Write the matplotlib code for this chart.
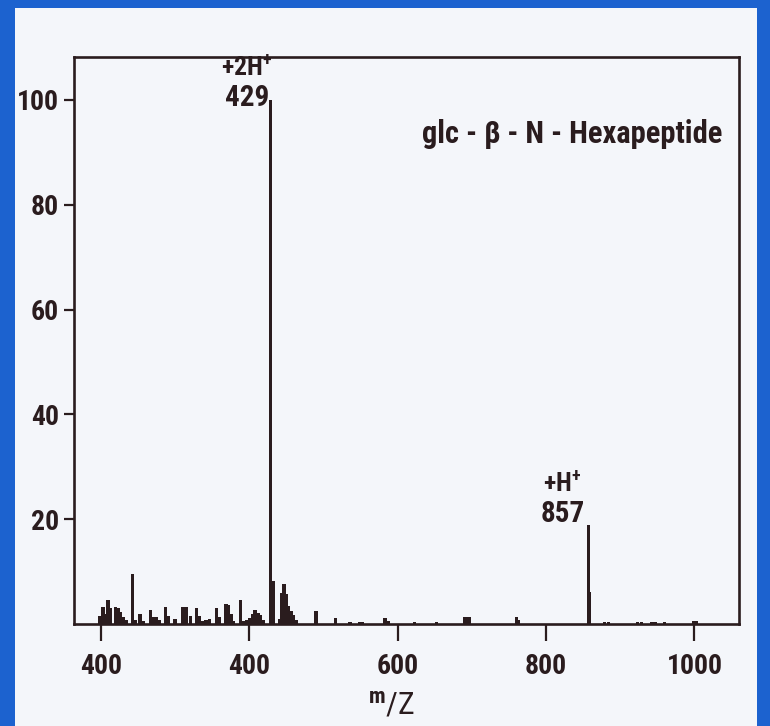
import matplotlib
matplotlib.use("Agg")
import matplotlib.pyplot as plt
from matplotlib import font_manager
from matplotlib.patches import Rectangle

# ---- spectrum data -------------------------------------------------------
mz = [199, 203, 206, 210, 213, 220, 224, 227, 231, 235,
      243, 247, 253, 257, 267, 271, 275, 279, 287, 291,
      300, 310, 315, 321, 329, 333, 337, 342, 347, 356,
      360, 369, 372, 376, 379, 388, 392, 397, 401, 405,
      408, 412, 415, 419, 429, 432, 441, 444, 447, 450,
      453, 457, 460, 464, 490, 516, 536, 549, 553, 583,
      587, 623, 652, 691, 696, 760, 763, 857, 859, 879,
      884, 923, 929, 942, 947, 960, 999, 1002]
intensity = [1.6, 3.2, 2.0, 4.6, 3.0, 3.3, 3.0, 2.2, 1.3, 0.8,
             9.5, 0.8, 1.9, 0.6, 2.6, 1.3, 1.4, 0.8, 3.2, 1.6,
             1.0, 3.3, 3.2, 1.6, 3.1, 1.5, 0.6, 0.8, 1.0, 3.1,
             1.3, 3.8, 3.6, 1.9, 0.6, 4.5, 0.6, 0.7, 1.2, 1.9,
             2.6, 2.1, 1.8, 0.8, 100.0, 8.2, 1.0, 6.0, 7.6, 5.8,
             3.5, 2.4, 1.8, 0.8, 2.5, 1.2, 0.4, 0.4, 0.4, 1.2,
             0.6, 0.4, 0.3, 1.4, 1.4, 1.4, 0.8, 18.8, 6.2, 0.4,
             0.4, 0.4, 0.4, 0.4, 0.4, 0.4, 0.5, 0.5]

# labelled ions
ion_mz = [429, 857]
ion_intensity = [100.0, 18.8]
ion_names = ["+2H$^{+}$", "+H$^{+}$"]

xtick_values = [200, 400, 600, 800, 1000]
xtick_labels = ["400", "400", "600", "800", "1000"]
ytick_values = [20, 40, 60, 80, 100]
title_text = "glc - \u03b2 - N - Hexapeptide"

# ---- style ---------------------------------------------------------------
BLUE = "#1c62cf"
PANEL = "#f4f6fa"
INK = "#2a1c1e"

# prefer a narrow bold grotesque for all lettering
available = {f.name for f in font_manager.fontManager.ttflist}
preferred = ["Liberation Sans Narrow", "Roboto Condensed", "Archivo Narrow",
             "PT Sans Narrow", "Pragati Narrow", "Arimo", "Liberation Sans"]
FONT = next((f for f in preferred if f in available), "DejaVu Sans")

plt.rcParams["font.family"] = [FONT, "DejaVu Sans"]
plt.rcParams["font.weight"] = "bold"
plt.rcParams["mathtext.fontset"] = "custom"
plt.rcParams["mathtext.rm"] = f"{FONT}:bold"
plt.rcParams["mathtext.it"] = f"{FONT}:bold"
plt.rcParams["mathtext.bf"] = f"{FONT}:bold"
FS = 20

# per-label offsets (points) of the m/z value from the peak tip
label_dx = [-17, -18.5]
label_dy = [-4.5, 2.5]
NAME_RISE = 21.5

fig = plt.figure(figsize=(7.7, 7.26), dpi=100)
fig.patch.set_facecolor(BLUE)
fig.add_artist(Rectangle((15 / 770, 0), (757 - 15) / 770, 1 - 8 / 726,
                         transform=fig.transFigure, facecolor=PANEL,
                         edgecolor="none", zorder=0))

ax = fig.add_axes([74 / 770, 1 - 624 / 726, 665 / 770, 567 / 726])
ax.set_facecolor(PANEL)

ax.bar(mz, intensity, width=4.5, color=INK, linewidth=0, zorder=3)

ax.set_xlim(164, 1060)
ax.set_ylim(0, 108.2)
ax.set_xticks(xtick_values)
ax.set_xticklabels(xtick_labels)
ax.set_yticks(ytick_values)

ax.tick_params(axis="x", direction="out", length=12, width=1.6, pad=9,
               labelsize=FS, colors=INK)
ax.tick_params(axis="y", direction="out", length=7, width=1.6, pad=4,
               labelsize=FS, colors=INK)
for sp in ax.spines.values():
    sp.set_linewidth(1.9)
    sp.set_color(INK)

# ion annotations: m/z value beside the peak tip, ion name stacked above it
for x, y, name, dx, dy in zip(ion_mz, ion_intensity, ion_names,
                              label_dx, label_dy):
    ax.annotate(f"{x}", xy=(x, y), xytext=(dx, dy),
                textcoords="offset points", ha="center", va="baseline",
                fontsize=21, color=INK, zorder=4)
    ax.annotate(name, xy=(x, y), xytext=(dx, dy + NAME_RISE),
                textcoords="offset points", ha="center", va="baseline",
                fontsize=18.5, color=INK, zorder=4)

ax.text(0.749, 0.848, title_text, transform=ax.transAxes, ha="center",
        va="baseline", fontsize=22, color=INK)

ax.set_xlabel("$^{\\mathrm{m}}$/Z", fontsize=23, color=INK, labelpad=7.5)
ax.xaxis.label.set_x(0.478)

fig.savefig("out.png", dpi=100, facecolor=BLUE)
